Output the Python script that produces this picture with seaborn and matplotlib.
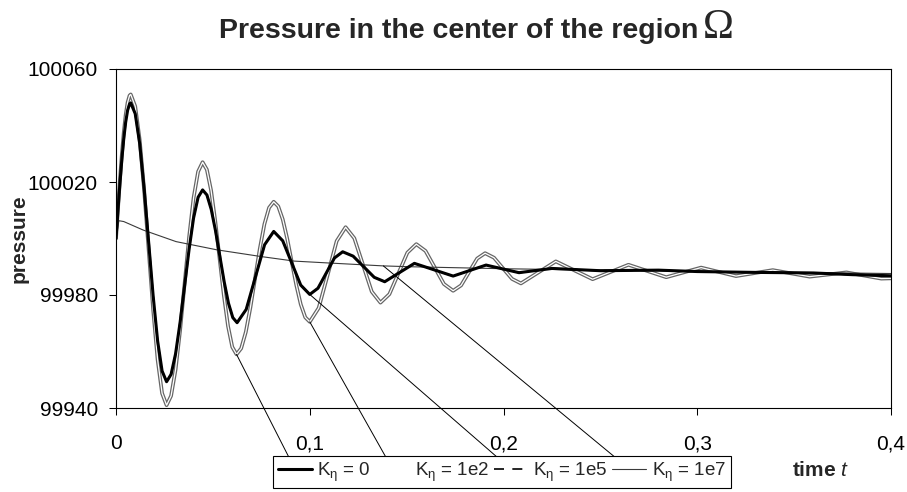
import matplotlib
matplotlib.use("Agg")
import matplotlib.pyplot as plt
import seaborn as sns
import pandas as pd
from matplotlib.lines import Line2D
from matplotlib.patches import ConnectionPatch

# ---------------- data ----------------
t_k0 = [0, 0.001, 0.002, 0.003, 0.004, 0.005, 0.006, 0.007, 0.0076,
        0.00991, 0.01223, 0.01454, 0.01685, 0.01916, 0.02148, 0.02379, 0.0261,
        0.02843, 0.03075, 0.03308, 0.0354, 0.03773, 0.04005, 0.04238, 0.0447,
        0.04693, 0.04915, 0.05138, 0.0536, 0.05583, 0.05805, 0.06028, 0.0625,
        0.0672, 0.07195, 0.0767, 0.0814,
        0.08605, 0.0907, 0.09535, 0.1,
        0.10425, 0.1085, 0.11275, 0.117,
        0.1224, 0.12785, 0.1333, 0.1387,
        0.14635, 0.154, 0.164, 0.174, 0.1825, 0.191, 0.1995, 0.208, 0.2165, 0.225,
        0.25, 0.28, 0.30, 0.33, 0.36, 0.38, 0.40]
p_k0 = [100000, 100009.85, 100019.3, 100027.9, 100035.3, 100041.2, 100045.4, 100047.6, 100048,
        100044.2, 100033.6, 100017.5, 99998.65, 99979.8, 99963.75, 99953.1, 99949.3,
        99951.9, 99959.2, 99970.3, 99983.25, 99996.2, 100007.3, 100014.6, 100017.2,
        100015.4, 100010.3, 100002.7, 99993.7, 99984.7, 99977.1, 99972.0, 99970.2,
        99974.9, 99986.35, 99997.8, 100002.5,
        99999.2, 99991.35, 99983.5, 99980.2,
        99982.4, 99987.75, 99993.1, 99995.3,
        99993.75, 99990.0, 99986.25, 99984.7,
        99987.95, 99991.2, 99988.95, 99986.7, 99988.65, 99990.6, 99989.25, 99987.9,
        99988.65, 99989.4, 99988.6, 99988.8, 99988.3, 99988.0, 99987.8, 99987.2, 99986.8]

# K = 1e5 cannot be told apart from K = 0 in the picture
t_k1e5 = list(t_k0)
p_k1e5 = list(p_k0)

t_k1e2 = [0, 0.001, 0.002, 0.003, 0.004, 0.005, 0.006, 0.007, 0.0076,
          0.00991, 0.01223, 0.01454, 0.01685, 0.01916, 0.02148, 0.02379, 0.0261,
          0.02843, 0.03075, 0.03308, 0.0354, 0.03773, 0.04005, 0.04238, 0.0447,
          0.04689, 0.04908, 0.05126, 0.05345, 0.05564, 0.05783, 0.06001, 0.0622,
          0.0646, 0.067, 0.0694, 0.0718, 0.0742, 0.0766, 0.079, 0.0814,
          0.08373, 0.08605, 0.08838, 0.0907, 0.09303, 0.09535, 0.09768, 0.1,
          0.1046, 0.1093, 0.1139, 0.1185, 0.123, 0.1275, 0.132, 0.1365,
          0.1411, 0.14575, 0.1504, 0.155, 0.15975, 0.1645, 0.16925, 0.174,
          0.1781, 0.18225, 0.1864, 0.1905, 0.1951, 0.19975, 0.2044, 0.209,
          0.218, 0.227, 0.2365, 0.246, 0.25525, 0.2645, 0.27425, 0.284, 0.293, 0.302,
          0.311, 0.32, 0.3295, 0.339, 0.3485, 0.358, 0.3675, 0.377, 0.386, 0.395, 0.4]
p_k1e2 = [100000, 100010.5, 100020.5, 100029.6, 100037.5, 100043.8, 100048.2, 100050.6, 100051,
          100046.8, 100034.9, 100017.0, 99996, 99974.96, 99957.1, 99945.2, 99941,
          99944.3, 99953.6, 99967.5, 99984, 100000.5, 100014.4, 100023.7, 100027,
          100024.4, 100017.0, 100006.0, 99993, 99980.0, 99968.96, 99961.6, 99959,
          99961.1, 99966.9, 99975.7, 99986, 99996.3, 100005.1, 100010.9, 100013,
          100011.4, 100006.8, 99999.9, 99991.75, 99983.6, 99976.7, 99972.1, 99970.5,
          99975.4, 99987.25, 99999.1, 100004, 100000.1, 99990.65, 99981.2, 99977.3,
          99980.3, 99987.65, 99995, 99998, 99995.6, 99989.75, 99983.9, 99981.5,
          99983.4, 99988.15, 99992.9, 99994.8, 99993.2, 99989.45, 99985.7, 99984.1,
          99988, 99991.9, 99988.75, 99985.6, 99988.15, 99990.7, 99988.5, 99986.3, 99988,
          99989.7, 99988.2, 99986.7, 99987.75, 99988.8, 99987.65, 99986.5, 99987.25,
          99988.0, 99986.9, 99985.8, 99985.9]

t_k1e7 = [0, 0.0015, 0.004, 0.014, 0.031, 0.052, 0.075, 0.092, 0.108, 0.138, 0.152, 0.2, 0.27,
          0.33, 0.4]
p_k1e7 = [100000, 100006.3, 100006.0, 100003.0, 99998.9, 99996.0, 99993.6, 99992.0, 99991.4,
          99990.3, 99990.0, 99989.3, 99988.6, 99988.2, 99987.6]

series_labels = [r"K$_{\mathrm{\eta}}$ = 0", r"K$_{\mathrm{\eta}}$ = 1e2",
                 r"K$_{\mathrm{\eta}}$ = 1e5", r"K$_{\mathrm{\eta}}$ = 1e7"]
xticks = [0, 0.1, 0.2, 0.3, 0.4]
xtick_labels = ["0", "0,1", "0,2", "0,3", "0,4"]
yticks = [99940, 99980, 100020, 100060]
ytick_labels = ["99940", "99980", "100020", "100060"]
title_text = "Pressure in the center of the region"
title_symbol = "Ω"
xlabel_text = r"time $\mathit{t}$"
ylabel_text = "pressure"

# leader lines: (series time list, series value list, time of the anchor point)
leaders = [(t_k1e2, p_k1e2, 0.0622), (t_k1e2, p_k1e2, 0.1),
           (t_k0, p_k0, 0.1), (t_k1e7, p_k1e7, 0.138)]

# ---------------- styling ----------------
sns.set_theme(style="white")
plt.rcParams["font.family"] = ["Liberation Sans", "DejaVu Sans"]
plt.rcParams["mathtext.fontset"] = "custom"
plt.rcParams["mathtext.rm"] = "Liberation Sans"
plt.rcParams["mathtext.it"] = "Liberation Sans:italic"
plt.rcParams["mathtext.bf"] = "Liberation Sans:bold"

W, H = 907, 492
fig = plt.figure(figsize=(W / 100, H / 100), dpi=100)
fig.patch.set_facecolor("white")
ax = fig.add_axes([116 / W, 84 / H, 775 / W, 339 / H])
ax.set_facecolor("white")

df2 = pd.DataFrame({"t": t_k1e2, "p": p_k1e2})
sns.lineplot(data=df2, x="t", y="p", ax=ax, color="#666666", lw=2.7, sort=False, zorder=2)
sns.lineplot(data=df2, x="t", y="p", ax=ax, color="white", lw=0.9, sort=False, zorder=2.1)
df7 = pd.DataFrame({"t": t_k1e7, "p": p_k1e7})
sns.lineplot(data=df7, x="t", y="p", ax=ax, color="#3a3a3a", lw=0.8, sort=False, zorder=2.2)
df0 = pd.DataFrame({"t": t_k0, "p": p_k0})
sns.lineplot(data=df0, x="t", y="p", ax=ax, color="black", lw=2.2, sort=False, zorder=2.3)
df5 = pd.DataFrame({"t": t_k1e5, "p": p_k1e5})
sns.lineplot(data=df5, x="t", y="p", ax=ax, color="black", lw=1.2, sort=False, zorder=2.4)
ax.lines[-1].set_dashes([6, 5])

ax.set_xlim(0, 0.4)
ax.set_ylim(99940, 100060)
ax.set_xticks(xticks)
ax.set_xticklabels(xtick_labels)
ax.set_yticks(yticks)
ax.set_yticklabels(ytick_labels)
ax.tick_params(axis="both", direction="out", length=5, width=0.75, colors="black",
               labelsize=15)
ax.tick_params(axis="x", pad=14, bottom=True)
ax.tick_params(axis="y", pad=8, left=True)
for s in ax.spines.values():
    s.set_visible(True)
    s.set_color("black")
    s.set_linewidth(0.8)

ax.set_xlabel(xlabel_text, fontsize=15, fontweight="bold")
ax.xaxis.set_label_coords((792 - 116) / 775, (408 - 476) / 339)
ax.xaxis.label.set_ha("left")
ax.xaxis.label.set_va("baseline")
ax.set_ylabel(ylabel_text, fontsize=15, fontweight="bold")
ax.yaxis.set_label_coords((19 - 116) / 775, 0.5)
ax.yaxis.label.set_va("center")

fig.text(698 / W, 1 - 38 / H, title_text, fontsize=20.5, fontweight="bold",
         ha="right", va="baseline")
fig.text(703 / W, 1 - 38 / H, title_symbol, fontsize=30, family="Liberation Serif",
         ha="left", va="baseline")

handles = [Line2D([], [], color="black", lw=2.2),
           Line2D([], [], color="white", lw=1.0),
           Line2D([], [], color="black", lw=1.2, dashes=[6, 5]),
           Line2D([], [], color="#3a3a3a", lw=0.8)]
leg = fig.legend(handles, series_labels, loc="center",
                 bbox_to_anchor=(502 / W, 1 - 472 / H), ncol=4, fontsize=13.5,
                 frameon=True, fancybox=False, edgecolor="black", framealpha=1,
                 handlelength=1.8, handletextpad=0.3, columnspacing=0.25,
                 borderpad=0.25, borderaxespad=0)
leg.get_frame().set_linewidth(0.8)

fig.canvas.draw()
renderer = fig.canvas.get_renderer()
for hl, (ts, ps, t0) in zip(leg.get_lines(), leaders):
    bb = hl.get_window_extent(renderer)
    cx, cy = (bb.x0 + bb.x1) / 2, (bb.y0 + bb.y1) / 2
    i = ts.index(t0)
    cp = ConnectionPatch(xyA=(ts[i], ps[i]), coordsA=ax.transData,
                         xyB=(cx, cy), coordsB="figure pixels",
                         color="black", lw=0.7, zorder=5)
    fig.add_artist(cp)

fig.savefig("out.png", dpi=100)
